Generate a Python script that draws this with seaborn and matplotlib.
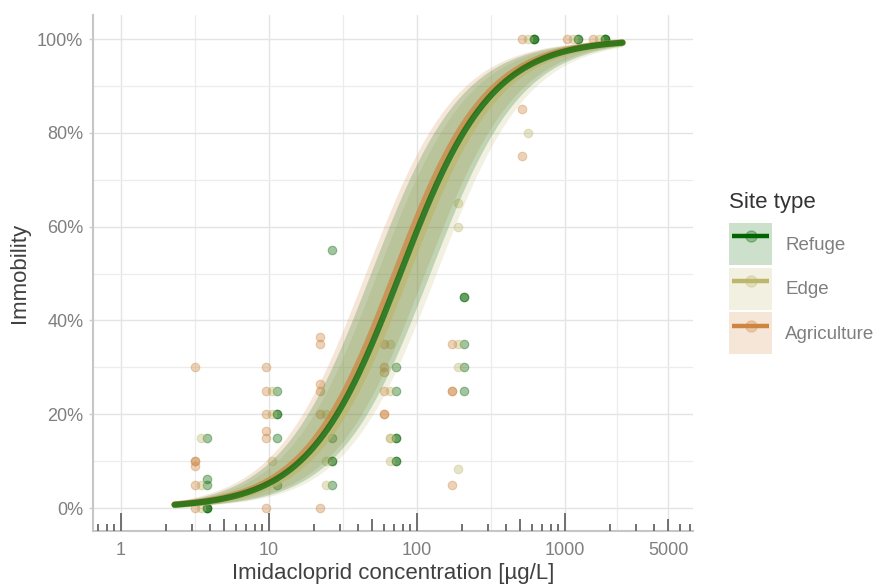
import matplotlib.pyplot as plt
import numpy as np
import pandas as pd
import seaborn as sns
from matplotlib.legend_handler import HandlerLine2D, HandlerTuple
from matplotlib.lines import Line2D
from matplotlib.patches import Patch
from matplotlib.ticker import FixedLocator, FuncFormatter, NullFormatter

site_types = ["Refuge", "Edge", "Agriculture"]
site_colors = ["#006400", "#BDB76B", "#CD853F"]

# concentrations tested (µg/L), one entry per group of points
conc_levels = [3.47, 10.4, 24.3, 66, 190, 565, 1125, 1690]

# immobility (%), one list per concentration level
refuge_imm = [
    [15, 6.25, 5, 0, 0, 0],
    [25, 20, 20, 15, 5],
    [55, 15, 10, 10, 5],
    [30, 25, 15, 15, 10, 10],
    [45, 45, 35, 30, 25],
    [100, 100, 100],
    [100, 100],
    [100, 100, 100],
]
edge_imm = [
    [15, 5, 0],
    [25, 20, 10],
    [20, 10, 5],
    [35, 25, 15, 15, 10],
    [65, 60, 35, 30, 8.3],
    [100, 80],
    [100],
    [100],
]
agri_imm = [
    [30, 10, 10, 9, 5, 0],
    [30, 25, 20, 16.4, 15, 0],
    [36.4, 35, 26.4, 25, 20, 0],
    [35, 30, 29, 25, 20, 20],
    [35, 25, 25, 5],
    [100, 85, 75],
    [100],
    [100],
]

# log-logistic fits (EC50 in µg/L, slope per log10 unit), same order as site_types
ec50 = [77, 85, 71]
hill_slope = [3.25, 3.25, 3.25]
ci_log_halfwidth = [0.2, 0.2, 0.2]
curve_range = (2.3, 2450)


def log_logistic(x, e, b):
    return 100 / (1 + np.exp(-b * (np.log10(x) - np.log10(e))))


def main():
    sns.set_theme(style="white")
    plt.rcParams["font.family"] = ["Liberation Sans", "DejaVu Sans"]

    dodge = {"Agriculture": -0.04, "Edge": 0.0, "Refuge": 0.04}
    rows = []
    for site, imm in zip(site_types, [refuge_imm, edge_imm, agri_imm]):
        for c, vals in zip(conc_levels, imm):
            for v in vals:
                rows.append({"site": site, "conc": c, "imm": v})
    df = pd.DataFrame(rows)
    df["x"] = df["conc"] * 10 ** df["site"].map(dodge)

    fig, ax = plt.subplots(figsize=(8.8, 5.85), dpi=100)
    fig.subplots_adjust(left=0.1057, right=0.7875, top=0.974, bottom=0.0923)

    # points
    for site, col in zip(site_types, site_colors):
        d = df[df["site"] == site]
        sns.scatterplot(data=d, x="x", y="imm", color=col, edgecolor=col, linewidth=0.8,
                        s=38, alpha=0.37, ax=ax, zorder=2, legend=False)

    # fitted curves and bands
    xs = np.logspace(np.log10(curve_range[0]), np.log10(curve_range[1]), 300)
    order = [2, 1, 0]
    for i in order:
        col = site_colors[i]
        lo = log_logistic(xs, ec50[i] * 10 ** ci_log_halfwidth[i], hill_slope[i])
        hi = log_logistic(xs, ec50[i] / 10 ** ci_log_halfwidth[i], hill_slope[i])
        ax.fill_between(xs, lo, hi, color=col, alpha=0.2, lw=0, zorder=3)
    for i in order:
        col = site_colors[i]
        sns.lineplot(x=xs, y=log_logistic(xs, ec50[i], hill_slope[i]), color=col,
                     lw=4.4, alpha=0.72, ax=ax, zorder=4)

    ax.set_xscale("log")
    ax.set_xlim(0.647, 7330)
    ax.set_ylim(-4.9, 105.1)

    ax.xaxis.set_major_locator(FixedLocator([1, 10, 100, 1000, 5000]))
    ax.xaxis.set_major_formatter(FuncFormatter(lambda v, p: f"{v:g}"))
    ax.xaxis.set_minor_locator(FixedLocator([3.162, 31.62, 316.2, 2236]))
    ax.xaxis.set_minor_formatter(NullFormatter())
    ax.yaxis.set_major_locator(FixedLocator([0, 20, 40, 60, 80, 100]))
    ax.yaxis.set_major_formatter(FuncFormatter(lambda v, p: f"{v:.0f}%"))
    ax.yaxis.set_minor_locator(FixedLocator([10, 30, 50, 70, 90]))

    ax.grid(which="major", color="#E4E4E4", lw=1.0, zorder=0)
    ax.grid(which="minor", color="#ECECEC", lw=0.9, zorder=0)
    ax.set_axisbelow(True)

    ax.tick_params(axis="x", which="both", length=0, labelsize=13, labelcolor="#7F7F7F", pad=8)
    ax.tick_params(axis="y", which="major", length=3, color="#CCCCCC", width=1,
                   labelsize=13, labelcolor="#7F7F7F", pad=4, left=True)
    ax.tick_params(axis="y", which="minor", length=0)

    for s in ["top", "right"]:
        ax.spines[s].set_visible(False)
    for s in ["left", "bottom"]:
        ax.spines[s].set_color("#C6C6C6")
        ax.spines[s].set_linewidth(1.5)

    # log tick marks along the bottom
    lo_x, hi_x = ax.get_xlim()
    trans = ax.get_xaxis_transform()
    for d in range(-1, 5):
        for m in range(1, 10):
            v = m * 10.0 ** d
            if lo_x <= v <= hi_x:
                h = 0.035 if m == 1 else (0.023 if m == 5 else 0.0135)
                ax.vlines(v, 0, h, transform=trans, color="#666666", lw=1.3, zorder=5)

    ax.set_xlabel("Imidacloprid concentration [µg/L]", fontsize=16, color="#404040", labelpad=3)
    ax.set_ylabel("Immobility", fontsize=16, color="#404040", labelpad=5)

    handles = []
    handler_map = {tuple: HandlerTuple(ndivide=1, pad=0)}
    for col in site_colors:
        key_line = Line2D([], [], color=col, lw=3.2, solid_capstyle="butt")
        handler_map[key_line] = HandlerLine2D(marker_pad=0.17, numpoints=2)
        handles.append((
            Patch(facecolor=col, alpha=0.2, edgecolor="none"),
            key_line,
            Line2D([], [], marker="o", ls="", color=col, alpha=0.3, markersize=8),
        ))
    leg = ax.legend(handles, site_types, title="Site type", loc="center left",
                    bbox_to_anchor=(1.06, 0.5), frameon=False, fontsize=13.5,
                    title_fontsize=16, handlelength=2.3, handleheight=3.07,
                    labelspacing=0.14, handletextpad=0.7, borderpad=0, borderaxespad=0,
                    handler_map=handler_map, alignment="left")
    leg._legend_box.sep = 7.5  # a bit more room under the title
    leg.get_title().set_color("#333333")
    for t in leg.get_texts():
        t.set_color("#7F7F7F")

    fig.savefig("out.png", dpi=100)


if __name__ == "__main__":
    main()
